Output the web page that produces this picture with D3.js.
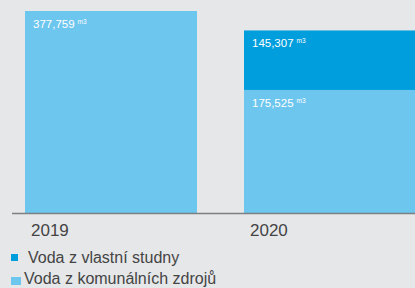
<!DOCTYPE html>
<html>
<head>
<meta charset="utf-8">
<script src="https://cdn.jsdelivr.net/npm/d3@7/dist/d3.min.js"></script>
<style>
  html, body { margin: 0; padding: 0; background: #e6e7e9; }
  svg { display: block; }
  text { font-family: "Liberation Sans", Arial, sans-serif; }
</style>
</head>
<body>
<svg id="chart" width="415" height="288"></svg>
<script>
// ---- data ----
const years = ["2019", "2020"];
const seriesNames = ["Voda z komunálních zdrojů", "Voda z vlastní studny"];
const komunalni = [377759, 175525];
const studna = [0, 145307];
const legendOrder = ["Voda z vlastní studny", "Voda z komunálních zdrojů"];

const colors = { "Voda z komunálních zdrojů": "#6dc6ee", "Voda z vlastní studny": "#009edc" };

const W = 415, H = 288;
const svg = d3.select("#chart");
svg.append("rect").attr("width", W).attr("height", H).attr("fill", "#e6e7e9");

const x = d3.scaleBand().domain(years).range([25, 416]).paddingInner(0.2146).paddingOuter(0);
// the original graphic is not drawn to a linear scale; a sqrt scale reproduces its proportions
const y = d3.scaleSqrt().domain([13000, 377759]).range([213, 11]);

const rows = years.map((yr, i) => ({ year: yr, "Voda z komunálních zdrojů": komunalni[i], "Voda z vlastní studny": studna[i] }));
const stack = d3.stack().keys(seriesNames);
const stacked = stack(rows);

const fmt = d3.format(",");

stacked.forEach(layer => {
  const g = svg.append("g");
  layer.forEach((d, i) => {
    const v = d[1] - d[0];
    if (v <= 0) return;
    const bottom = d[0] === 0 ? y.range()[0] : y(d[0]);
    const top = y(d[1]);
    g.append("rect")
      .attr("x", x(years[i]))
      .attr("y", top)
      .attr("width", x.bandwidth())
      .attr("height", bottom - top)
      .attr("fill", colors[layer.key]);
    const t = g.append("text")
      .attr("x", x(years[i]) + 8)
      .attr("y", top + 17)
      .attr("fill", "#ffffff")
      .attr("font-size", 11.5)
      .text(fmt(v));
    t.append("tspan").attr("dx", 3).attr("dy", -4).attr("font-size", 6.5).text("m3");
  });
});

// axis baseline
svg.append("line")
  .attr("x1", 12).attr("x2", W)
  .attr("y1", y.range()[0] + 0.5).attr("y2", y.range()[0] + 0.5)
  .attr("stroke", "#7b8085").attr("stroke-width", 1.5);

// year labels
svg.selectAll("text.year").data(years).enter().append("text")
  .attr("class", "year")
  .attr("x", d => x(d) + 6)
  .attr("y", 236)
  .attr("font-size", 17)
  .attr("fill", "#444")
  .text(d => d);

// legend
const lg = svg.append("g");
const legendY = [263, 284];
const sq = [[11, 254, 7, 7], [11, 277, 10, 8]];
legendOrder.forEach((name, i) => {
  lg.append("rect")
    .attr("x", sq[i][0]).attr("y", sq[i][1])
    .attr("width", sq[i][2]).attr("height", sq[i][3])
    .attr("fill", colors[name]);
  lg.append("text")
    .attr("x", i === 0 ? 28 : 24)
    .attr("y", legendY[i])
    .attr("font-size", 16)
    .attr("fill", "#444")
    .text(name);
});
</script>
</body>
</html>
